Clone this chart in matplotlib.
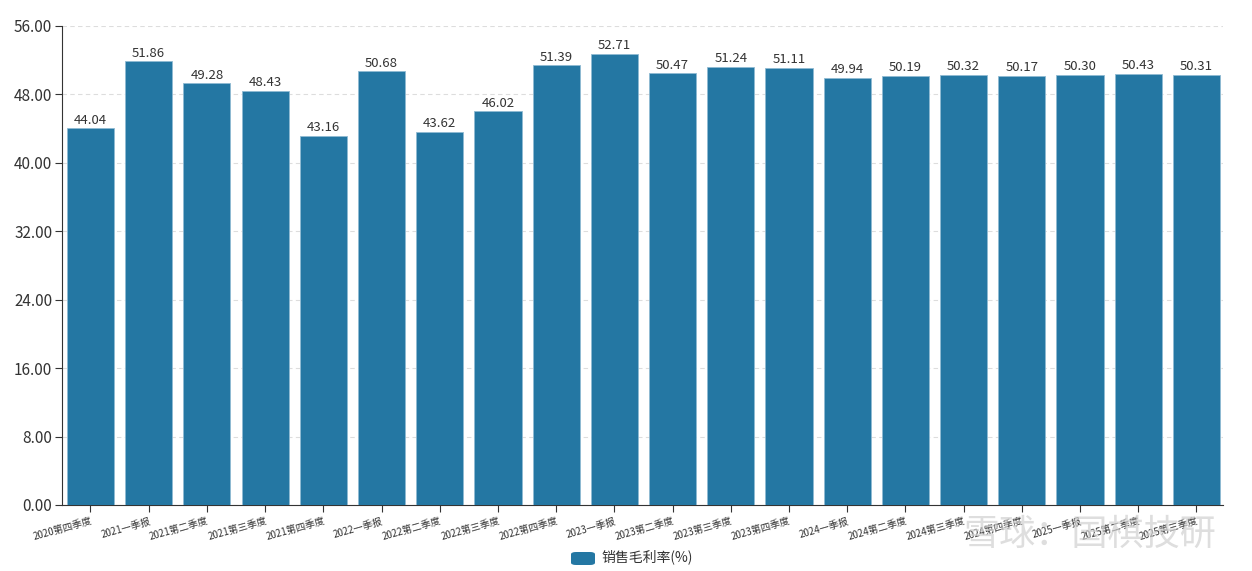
import numpy as np
import matplotlib
matplotlib.use("Agg")
import matplotlib.pyplot as plt
from matplotlib.patches import FancyBboxPatch

plt.rcParams['font.family'] = ['Noto Sans CJK SC', 'DejaVu Sans']

# data
quarters = ['2020第四季度', '2021一季报', '2021第二季度', '2021第三季度', '2021第四季度',
            '2022一季报', '2022第二季度', '2022第三季度', '2022第四季度',
            '2023一季报', '2023第二季度', '2023第三季度', '2023第四季度',
            '2024一季报', '2024第二季度', '2024第三季度', '2024第四季度',
            '2025一季报', '2025第二季度', '2025第三季度']
grossMargin = [44.04, 51.86, 49.28, 48.43, 43.16, 50.68, 43.62, 46.02, 51.39,
               52.71, 50.47, 51.24, 51.11, 49.94, 50.19, 50.32, 50.17, 50.30,
               50.43, 50.31]
yTicks = [0, 8, 16, 24, 32, 40, 48, 56]
seriesName = '销售毛利率(%)'

barColor = '#2477a3'
axisColor = '#333333'

fig = plt.figure(figsize=(12.52, 5.71), dpi=100)
ax = fig.add_axes([0.0495, 0.1156, 0.9273, 0.8389])

x = np.arange(len(quarters))
bars = ax.bar(x, grossMargin, width=0.81, color=barColor, edgecolor='#8fbad3',
              linewidth=0.6, zorder=3, label=seriesName)

for xi, v in zip(x, grossMargin):
    ax.text(xi, v + 0.2, '%.2f' % v, ha='center', va='bottom', fontsize=9.5,
            color='#333333', zorder=4)

ax.set_xlim(-0.49, len(quarters) - 1 + 0.455)
ax.set_ylim(0, 56)
ax.set_yticks(yTicks)
ax.set_yticklabels(['%.2f' % t for t in yTicks], fontsize=11, color='#333333')
ax.set_xticks(x)
ax.set_xticklabels(quarters, rotation=16, ha='right', rotation_mode='anchor',
                   fontsize=7, color='#333333')

ax.grid(axis='y', linestyle=(0, (4, 3)), color='#dddddd', linewidth=0.8, zorder=0)
ax.spines['top'].set_visible(False)
ax.spines['right'].set_visible(False)
ax.spines['left'].set_color(axisColor)
ax.spines['bottom'].set_color(axisColor)
ax.tick_params(axis='both', direction='out', length=5, color=axisColor, width=0.8)
ax.tick_params(axis='y', pad=2)
ax.tick_params(axis='x', pad=3)

# legend drawn by hand at bottom
legH = FancyBboxPatch((571 / 1252, 1 - 565 / 571), 24 / 1252, 13 / 571,
                      boxstyle='round,pad=0,rounding_size=0.004',
                      transform=fig.transFigure, facecolor=barColor,
                      edgecolor='none')
fig.patches.append(legH)
fig.text(601 / 1252, 1 - 557 / 571, seriesName, ha='left', va='center',
         fontsize=10, color='#333333')

# watermark
fig.text(1090 / 1252, 1 - 535 / 571, '雪球：国棋技研', ha='center', va='center',
         fontsize=26, color='#d0d0d0', alpha=0.7, zorder=10)

fig.savefig('out.png', dpi=100)
